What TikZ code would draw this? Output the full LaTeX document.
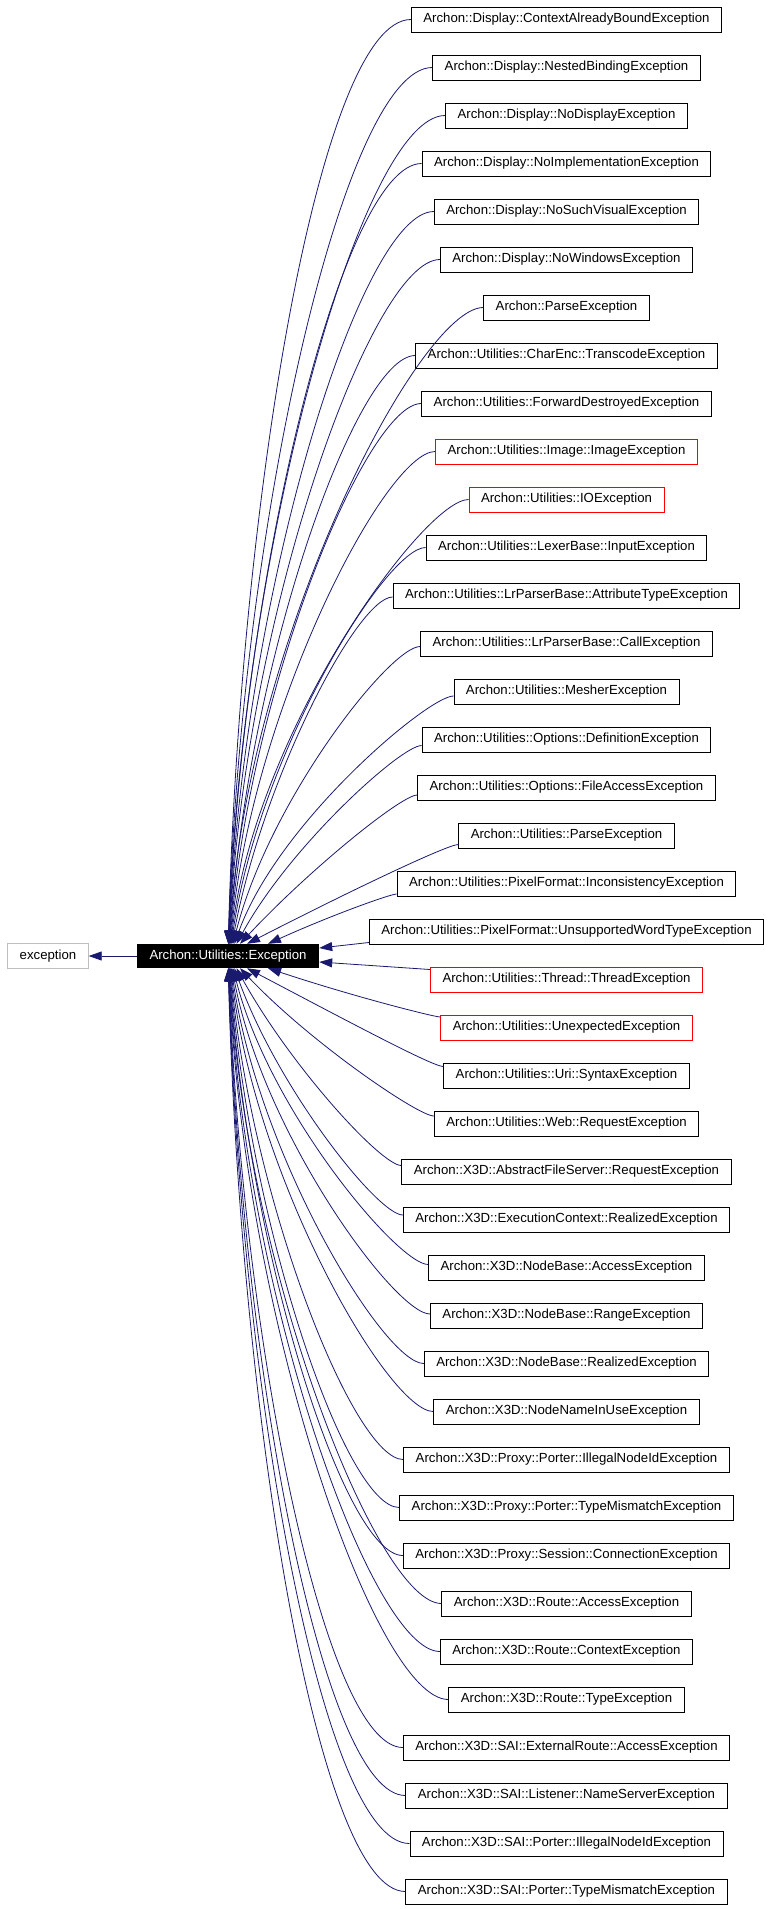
\documentclass[tikz,border=0pt]{standalone}
\usepackage{fontspec}
\setmainfont{Liberation Sans}
\usetikzlibrary{arrows.meta,calc}
\definecolor{edgec}{RGB}{25,25,112}
\definecolor{grayb}{RGB}{191,191,191}
\newdimen\xw
\begin{document}
\begin{tikzpicture}[x=1pt,y=-1pt,
  cls/.style={draw=black, line width=0.9pt, fill=white, inner xsep=12pt, inner ysep=0pt,
    minimum height=25pt, font=\fontsize{13.2}{15}\selectfont},
  redcls/.style={cls, draw=red},
  inh/.style={draw=edgec, line width=0.8pt, -{Triangle[length=13pt,width=9pt]}}]
\useasboundingbox (0,0) rectangle (771,1909);
\node[draw=grayb, line width=0.9pt, inner xsep=12pt, inner ysep=0pt, minimum height=25pt,
  font=\fontsize{13.2}{15}\selectfont] (base) at (48,956) {exception};
\node[fill=black, text=white, inner xsep=12.5pt, inner ysep=0pt, minimum height=24pt,
  font=\fontsize{13.2}{15}\selectfont] (exc) at (228,956) {Archon::Utilities::Exception};
\foreach \i/\s/\t in {
 1/cls/Archon::Display::ContextAlreadyBoundException,
 2/cls/Archon::Display::NestedBindingException,
 3/cls/Archon::Display::NoDisplayException,
 4/cls/Archon::Display::NoImplementationException,
 5/cls/Archon::Display::NoSuchVisualException,
 6/cls/Archon::Display::NoWindowsException,
 7/cls/Archon::ParseException,
 8/cls/Archon::Utilities::CharEnc::TranscodeException,
 9/cls/Archon::Utilities::ForwardDestroyedException,
 10/redcls/Archon::Utilities::Image::ImageException,
 11/redcls/Archon::Utilities::IOException,
 12/cls/Archon::Utilities::LexerBase::InputException,
 13/cls/Archon::Utilities::LrParserBase::AttributeTypeException,
 14/cls/Archon::Utilities::LrParserBase::CallException,
 15/cls/Archon::Utilities::MesherException,
 16/cls/Archon::Utilities::Options::DefinitionException,
 17/cls/Archon::Utilities::Options::FileAccessException,
 18/cls/Archon::Utilities::ParseException,
 19/cls/Archon::Utilities::PixelFormat::InconsistencyException,
 20/cls/Archon::Utilities::PixelFormat::UnsupportedWordTypeException,
 21/redcls/Archon::Utilities::Thread::ThreadException,
 22/redcls/Archon::Utilities::UnexpectedException,
 23/cls/Archon::Utilities::Uri::SyntaxException,
 24/cls/Archon::Utilities::Web::RequestException,
 25/cls/Archon::X3D::AbstractFileServer::RequestException,
 26/cls/Archon::X3D::ExecutionContext::RealizedException,
 27/cls/Archon::X3D::NodeBase::AccessException,
 28/cls/Archon::X3D::NodeBase::RangeException,
 29/cls/Archon::X3D::NodeBase::RealizedException,
 30/cls/Archon::X3D::NodeNameInUseException,
 31/cls/Archon::X3D::Proxy::Porter::IllegalNodeIdException,
 32/cls/Archon::X3D::Proxy::Porter::TypeMismatchException,
 33/cls/Archon::X3D::Proxy::Session::ConnectionException,
 34/cls/Archon::X3D::Route::AccessException,
 35/cls/Archon::X3D::Route::ContextException,
 36/cls/Archon::X3D::Route::TypeException,
 37/cls/Archon::X3D::SAI::ExternalRoute::AccessException,
 38/cls/Archon::X3D::SAI::Listener::NameServerException,
 39/cls/Archon::X3D::SAI::Porter::IllegalNodeIdException,
 40/cls/Archon::X3D::SAI::Porter::TypeMismatchException}
 {\node[\s] (c\i) at (566.5,{19.5+48*(\i-1)}) {\t};}
% edges from upper boxes
\foreach \i in {1,...,19}{
  \pgfextractx{\xw}{\pgfpointanchor{c\i}{west}}
  \pgfmathsetmacro{\ek}{20-\i}
  \pgfmathsetmacro{\esh}{42/\ek-2}
  \pgfmathsetmacro{\edy}{924.5-48*(\i-1)}
  \pgfmathsetmacro{\edx}{\xw-228-\esh}
  \pgfmathsetmacro{\ea}{min(0.1*\edy,0.5*\edx)}
  \pgfmathsetmacro{\eb}{min(11000/\edy,0.5*\edx)}
  \pgfmathsetmacro{\eh}{0.48*\edy}
  \pgfmathsetmacro{\att}{max(0,12*(1-\ek/8))}
  \coordinate (s\i) at ([yshift=-\att pt]c\i.west);
  \draw[inh] (s\i) .. controls ($(s\i)+(-\ea,0)$) and ($(exc.north)+(\esh+\eb,-\eh)$) .. ([xshift=\esh pt]exc.north);
}
% edges from lower boxes
\foreach \i in {22,...,40}{
  \pgfextractx{\xw}{\pgfpointanchor{c\i}{west}}
  \pgfmathsetmacro{\ek}{\i-21}
  \pgfmathsetmacro{\esh}{42/\ek-2}
  \pgfmathsetmacro{\edy}{19.5+48*(\i-1)-968}
  \pgfmathsetmacro{\edx}{\xw-228-\esh}
  \pgfmathsetmacro{\ea}{min(0.1*\edy,0.5*\edx)}
  \pgfmathsetmacro{\eb}{min(11000/\edy,0.5*\edx)}
  \pgfmathsetmacro{\eh}{0.48*\edy}
  \pgfmathsetmacro{\att}{max(0,12*(1-\ek/8))}
  \coordinate (s\i) at ([yshift=\att pt]c\i.west);
  \draw[inh] (s\i) .. controls ($(s\i)+(-\ea,0)$) and ($(exc.south)+(\esh+\eb,\eh)$) .. ([xshift=\esh pt]exc.south);
}
\draw[inh] ([yshift=-11pt]c20.west) -- ([yshift=8pt]exc.east);
\draw[inh] ([yshift=10pt]c21.west) -- ([yshift=-6pt]exc.east);
\draw[inh] (exc) -- (base);
\end{tikzpicture}
\end{document}
